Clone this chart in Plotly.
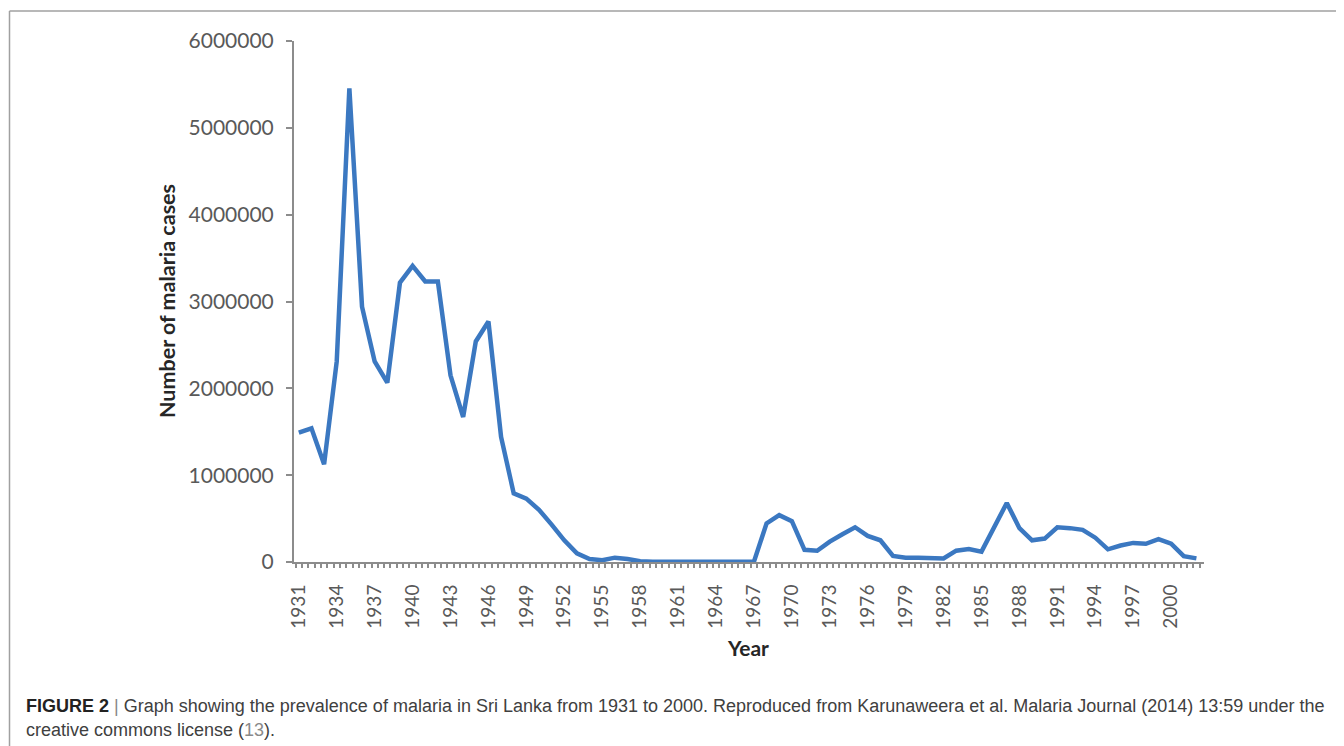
import plotly.graph_objects as go

years = list(range(1931, 2003))
cases = [
    1490000, 1540000, 1125000, 2310000, 5455000, 2940000, 2310000, 2065000, 3216000, 3410000,
    3230000, 3230000, 2150000, 1670000, 2540000, 2770000, 1440000, 790000, 730000, 600000,
    430000, 250000, 100000, 35000, 20000, 50000, 35000, 8000, 3000, 1500,
    500, 100, 17, 150, 300, 500, 3466, 445000, 540000, 470000,
    140000, 130000, 234000, 320000, 400000, 300000, 250000, 70000, 50000, 50000,
    40000, 40000, 130000, 150000, 120000, 410000, 680000, 390000, 250000, 270000,
    400000, 390000, 370000, 280000, 146000, 190000, 220000, 210000, 264549, 210039,
    66522, 41411,
]
x_tick_years = list(range(1931, 2001, 3))
y_ticks = [0, 1000000, 2000000, 3000000, 4000000, 5000000, 6000000]

OFF = 8  # page body margin
W, H = 1344 - OFF, 746 - OFF
L, R, T, B = 294 - OFF, 1204 - OFF, 41 - OFF, 562 - OFF
XMIN, XMAX = 1930.62, 2002.6


def px(xp):
    return (xp - OFF - L) / (R - L)


def py(yp):
    return (B - (yp - OFF)) / (B - T)


TICKFONT = dict(family="Lato", size=19, color="#595959")
AXC = "#8c8c8c"

# tick-mark positions (every half year, between labels)
tick_marks = [XMIN + 0.13 + 0.5 * k for k in range(int((XMAX - XMIN) / 0.5) + 1)]

fig = go.Figure()
fig.add_trace(go.Scatter(
    x=years, y=cases, mode="lines",
    line=dict(color="#3b78c1", width=4.5),
    hoverinfo="x+y", showlegend=False,
))

fig.update_layout(
    width=W, height=H,
    margin=dict(l=L, r=W - R, t=T, b=H - B),
    paper_bgcolor="white", plot_bgcolor="white",
    showlegend=False,
    xaxis=dict(
        range=[XMIN, XMAX],
        tickmode="array", tickvals=x_tick_years, ticktext=[str(y) for y in x_tick_years],
        tickangle=-90, tickfont=TICKFONT, ticks="",
        showline=True, linecolor=AXC, linewidth=2,
        showgrid=False, zeroline=False, ticklabelstandoff=13,
    ),
    xaxis2=dict(
        range=[XMIN, XMAX], overlaying="x", side="bottom", anchor="y",
        tickmode="array", tickvals=tick_marks, ticktext=["" for _ in tick_marks],
        ticks="outside", ticklen=5, tickcolor=AXC, tickwidth=1.5,
        showline=False, showgrid=False, zeroline=False, showticklabels=False,
    ),
    yaxis=dict(
        range=[0, 6000000],
        tickmode="array", tickvals=y_ticks, ticktext=[str(v) for v in y_ticks],
        tickfont=dict(family="Lato", size=21, color="#595959"),
        ticks="outside", ticklen=6, tickcolor=AXC, tickwidth=1.5,
        showline=True, linecolor=AXC, linewidth=2,
        showgrid=False, zeroline=False, ticklabelstandoff=8,
    ),
)
# invisible trace to activate tick-mark axis
fig.add_trace(go.Scatter(x=[XMIN], y=[None], xaxis="x2", mode="lines", showlegend=False, hoverinfo="skip"))

# axis titles
fig.add_annotation(text="<b>Year</b>", x=px(748), y=py(647), xref="paper", yref="paper",
                   showarrow=False, font=dict(family="Lato", size=21, color="#262626"),
                   xanchor="center", yanchor="middle")
fig.add_annotation(text="<b>Number of malaria cases</b>", x=px(167), y=py(301), xref="paper", yref="paper",
                   showarrow=False, textangle=-90, font=dict(family="Lato", size=21.5, color="#262626"),
                   xanchor="center", yanchor="middle")

# caption
CAP = dict(family="Liberation Sans", size=18, color="#404040")
fig.add_annotation(
    text="<b><span style='color:#222'>FIGURE 2</span></b> <span style='color:#888'>|</span> Graph showing the prevalence of malaria in Sri Lanka from 1931 to 2000. "
         "Reproduced from Karunaweera et al. Malaria Journal (2014) 13:59 under the",
    x=px(24), y=py(706), xref="paper", yref="paper", showarrow=False,
    xanchor="left", yanchor="middle", font=CAP, align="left")
fig.add_annotation(
    text="creative commons license (<span style='color:#8a8a8a'>13</span>).",
    x=px(24), y=py(730), xref="paper", yref="paper", showarrow=False,
    xanchor="left", yanchor="middle", font=CAP, align="left")

# figure frame (left and top edges)
fig.add_shape(type="line", xref="paper", yref="paper", x0=px(9.5), x1=px(1350), y0=py(11), y1=py(11),
              line=dict(color="#a0a0a0", width=1.5))
fig.add_shape(type="line", xref="paper", yref="paper", x0=px(9.5), x1=px(9.5), y0=py(11), y1=py(760),
              line=dict(color="#a0a0a0", width=1.5))

fig.write_html("out.html")
